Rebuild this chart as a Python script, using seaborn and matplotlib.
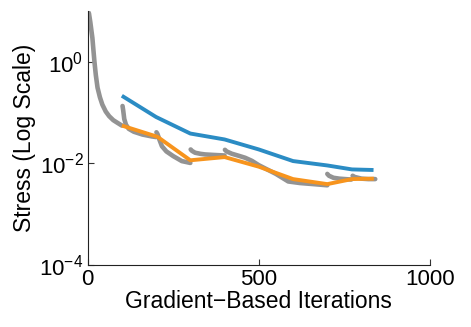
import numpy as np
import pandas as pd
import matplotlib
matplotlib.use("Agg")
import matplotlib.pyplot as plt
import seaborn as sns

# Blue series
blue_x = [100, 200, 300, 400, 500, 600, 700, 772, 835]
blue_y = [0.215, 0.082, 0.0387, 0.0296, 0.0188, 0.0111, 0.0091, 0.0076, 0.0074]

# Orange series
orange_x = [100, 204, 300, 400, 500, 600, 700, 772, 836]
orange_y = [0.0556, 0.0334, 0.0115, 0.0133, 0.0086, 0.0049, 0.0039, 0.0049, 0.0050]

# Gray segments (restarted descent runs)
gray0_x = [1, 4, 8, 11, 14, 17, 20, 24, 29, 36, 43, 53, 63, 75, 87, 100]
gray0_y = [9.8, 9.0, 6.0, 4.2, 2.95, 1.7, 1.0, 0.55, 0.31, 0.2, 0.144, 0.105, 0.085, 0.071, 0.063, 0.0556]
gray1_x = [102, 104, 107, 112, 120, 135, 160, 187, 200]
gray1_y = [0.135, 0.11, 0.075, 0.058, 0.048, 0.042, 0.037, 0.034, 0.033]
gray2_x = [201, 204, 210, 217, 230, 250, 275, 300]
gray2_y = [0.041, 0.038, 0.029, 0.0218, 0.0172, 0.0139, 0.0111, 0.0102]
gray3_x = [301, 305, 314, 330, 343, 365, 382, 400]
gray3_y = [0.0188, 0.0176, 0.0162, 0.0154, 0.0150, 0.0147, 0.0145, 0.0143]
gray4_x = [401, 406, 421, 440, 460, 480, 500, 550, 586, 620, 660, 700]
gray4_y = [0.0185, 0.0172, 0.0155, 0.0142, 0.0129, 0.0112, 0.0092, 0.0062, 0.0044, 0.0041, 0.0039, 0.0037]
gray5_x = [700, 705, 718, 735, 752, 770]
gray5_y = [0.0062, 0.0057, 0.0052, 0.0050, 0.0049, 0.0048]
gray6_x = [774, 780, 800, 820, 840]
gray6_y = [0.0057, 0.0054, 0.0050, 0.0049, 0.0049]

x_ticks = [0, 500, 1000]
y_ticks = [1e-4, 1e-2, 1e0]

sns.set_style("ticks")
plt.rcParams["font.family"] = ["Liberation Sans", "DejaVu Sans"]
plt.rcParams["mathtext.fontset"] = "custom"
plt.rcParams["mathtext.rm"] = "Liberation Sans"
plt.rcParams["mathtext.it"] = "Liberation Sans:italic"
plt.rcParams["mathtext.bf"] = "Liberation Sans:bold"
for k in ["text.color", "axes.labelcolor", "xtick.color", "ytick.color"]:
    plt.rcParams[k] = "black"

fig = plt.figure(figsize=(4.71, 3.27), dpi=100)
ax = fig.add_axes([0.186, 0.19, 0.727, 0.776])

segs = [(gray0_x, gray0_y), (gray1_x, gray1_y), (gray2_x, gray2_y), (gray3_x, gray3_y),
        (gray4_x, gray4_y), (gray5_x, gray5_y), (gray6_x, gray6_y)]
gray_df = pd.concat([pd.DataFrame({"x": sx, "y": sy, "seg": i}) for i, (sx, sy) in enumerate(segs)],
                    ignore_index=True)

sns.lineplot(data=gray_df, x="x", y="y", units="seg", estimator=None, color="#939393",
             linewidth=3.3, ax=ax, sort=False, solid_capstyle="round", solid_joinstyle="round")
sns.lineplot(x=blue_x, y=blue_y, color="#2b8cc4", linewidth=2.8, ax=ax, estimator=None,
             solid_capstyle="butt")
sns.lineplot(x=orange_x, y=orange_y, color="#f7941d", linewidth=2.8, ax=ax, estimator=None,
             solid_capstyle="butt")

ax.set_yscale("log")
ax.set_xlim(0, 1000)
ax.set_ylim(1e-4, 1e1)
ax.set_xticks(x_ticks)
ax.set_xticklabels([str(t) for t in x_ticks])
ax.set_yticks(y_ticks)
ax.set_yticklabels([r"$\mathdefault{10^{%d}}$" % int(np.log10(t)) for t in y_ticks])
ax.minorticks_off()
ax.yaxis.set_minor_locator(matplotlib.ticker.NullLocator())
ax.tick_params(direction="in", length=4, width=0.8, labelsize=16, pad=3, color="#333333")
for s in ["top", "right"]:
    ax.spines[s].set_visible(False)
for s in ["left", "bottom"]:
    ax.spines[s].set_linewidth(0.8)
    ax.spines[s].set_color("#222222")
ax.set_xlabel("Gradient\u2212Based Iterations", fontsize=16.5, labelpad=0)
ax.set_ylabel("Stress (Log Scale)", fontsize=16.5, labelpad=2)

fig.savefig("out.png", dpi=100)
